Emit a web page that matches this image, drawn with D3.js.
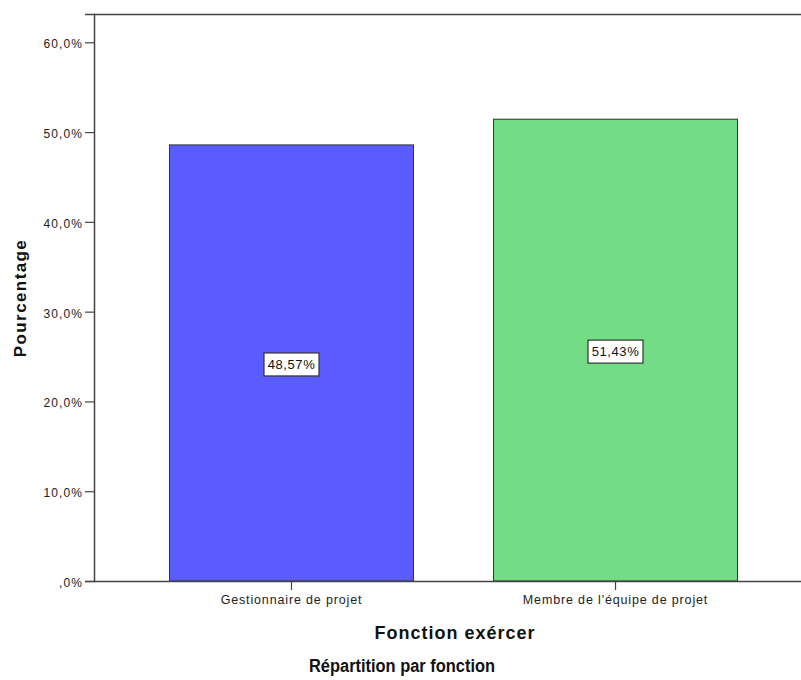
<!DOCTYPE html>
<html>
<head>
<meta charset="utf-8">
<script src="https://cdn.jsdelivr.net/npm/d3@7"></script>
<style>
  html, body { margin: 0; padding: 0; background: #fff; }
  svg { display: block; }
</style>
</head>
<body>
<svg id="chart" width="801" height="680"></svg>
<script>
// Répartition par fonction — pourcentage par catégorie
const categories = ["Gestionnaire de projet", "Membre de l'équipe de projet"];
const values = [48.57, 51.43];
const colors = ["#5b5cff", "#72dd85"];
const yTicks = [0, 10, 20, 30, 40, 50, 60];

const fmtTick = v => (v === 0 ? "" : String(v)) + ",0%";
const fmtVal = v => v.toFixed(2).replace(".", ",") + "%";

const svg = d3.select("#chart");
const plotLeft = 94, plotRight = 813, plotTop = 14, plotBottom = 581;

const x = d3.scaleBand()
  .domain(categories)
  .range([plotLeft, plotRight])
  .paddingInner(0.247)
  .paddingOuter(0.233);

const y = d3.scaleLinear().domain([0, 63.15]).range([plotBottom, plotTop]);

const font = "'Liberation Sans', Arial, sans-serif";

// frame top line
svg.append("line")
  .attr("x1", plotLeft).attr("x2", 801)
  .attr("y1", plotTop + 0.5).attr("y2", plotTop + 0.5)
  .attr("stroke", "#444").attr("stroke-width", 1.5);

// bars
svg.append("g").selectAll("rect")
  .data(categories)
  .join("rect")
  .attr("x", d => x(d))
  .attr("y", (d, i) => y(values[i]))
  .attr("width", x.bandwidth())
  .attr("height", (d, i) => plotBottom - y(values[i]))
  .attr("fill", (d, i) => colors[i])
  .attr("stroke", "#333")
  .attr("stroke-width", 1);

// y axis
const yAxis = svg.append("g")
  .attr("transform", `translate(${plotLeft},0)`)
  .call(d3.axisLeft(y).tickValues(yTicks).tickFormat(fmtTick).tickSize(9).tickPadding(2));
yAxis.select(".domain").attr("stroke", "#444").attr("stroke-width", 1.5);
yAxis.selectAll(".tick line").attr("stroke", "#444").attr("stroke-width", 1.2);
yAxis.selectAll("text")
  .attr("font-family", font).attr("font-size", 12).attr("letter-spacing", 1.1)
  .attr("dy", "0.45em").attr("fill", "#222");

// x axis
const xAxis = svg.append("g")
  .attr("transform", `translate(0,${plotBottom})`)
  .call(d3.axisBottom(x).tickSize(9).tickPadding(5).tickSizeOuter(0));
xAxis.select(".domain").attr("stroke", "#444").attr("stroke-width", 1.5)
  .attr("d", `M${plotLeft},0.5H801`);
xAxis.selectAll(".tick line").attr("stroke", "#444").attr("stroke-width", 1.2);
xAxis.selectAll("text")
  .attr("font-family", font).attr("font-size", 12.5).attr("letter-spacing", 0.85)
  .attr("fill", "#222");

// value labels in the middle of each bar
const lbl = svg.append("g").selectAll("g")
  .data(categories)
  .join("g")
  .attr("transform", (d, i) => `translate(${x(d) + x.bandwidth() / 2},${(y(values[i]) + plotBottom) / 2 + 1.5})`);
lbl.append("rect")
  .attr("x", -27.5).attr("y", -11.5).attr("width", 55).attr("height", 23)
  .attr("fill", "#fff").attr("stroke", "#333").attr("stroke-width", 1.2);
lbl.append("text")
  .attr("text-anchor", "middle").attr("dy", "0.36em")
  .attr("font-family", font).attr("font-size", 13).attr("letter-spacing", 0.6)
  .attr("fill", "#111")
  .text((d, i) => fmtVal(values[i]));

// axis titles
svg.append("text")
  .attr("transform", "translate(26,298) rotate(-90)")
  .attr("text-anchor", "middle")
  .attr("font-family", font).attr("font-weight", "bold").attr("font-size", 17)
  .attr("letter-spacing", 1.4)
  .attr("fill", "#111")
  .text("Pourcentage");

svg.append("text")
  .attr("x", 455).attr("y", 639)
  .attr("text-anchor", "middle")
  .attr("font-family", font).attr("font-weight", "bold").attr("font-size", 18)
  .attr("letter-spacing", 1)
  .attr("fill", "#111")
  .text("Fonction exércer");

svg.append("text")
  .attr("x", 402).attr("y", 672)
  .attr("text-anchor", "middle")
  .attr("font-family", font)
  .attr("font-weight", "bold").attr("font-size", 17.5)
  .attr("textLength", 186).attr("lengthAdjust", "spacingAndGlyphs")
  .attr("fill", "#111")
  .text("Répartition par fonction");
</script>
</body>
</html>
